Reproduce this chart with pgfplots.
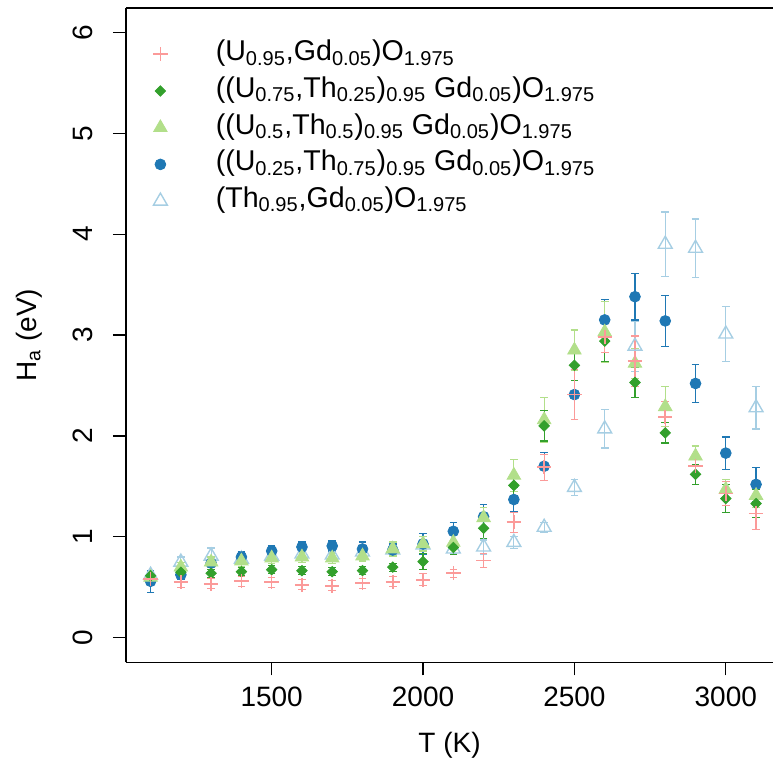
\documentclass[border=0pt]{standalone}
\usepackage{fontspec}
\setmainfont{Liberation Sans}
\usepackage{pgfplots}
\pgfplotsset{compat=1.18}
\definecolor{cPink}{HTML}{FB9A99}
\definecolor{cDkGreen}{HTML}{33A02C}
\definecolor{cLtGreen}{HTML}{B2DF8A}
\definecolor{cDkBlue}{HTML}{1F78B4}
\definecolor{cLtBlue}{HTML}{A6CEE3}
\newcommand{\sub}[1]{\textsubscript{#1}}
\begin{document}
\begin{tikzpicture}
\begin{axis}[
    scale only axis,
    width=323.5pt, height=327.2pt,
    xmin=1018.8, xmax=3155.9, ymin=-0.244, ymax=6.241,
    axis lines=left,
    axis line style={-, line width=0.75pt},
    xtick={1500,2000,2500,3000}, ytick={0,1,2,3,4,5,6},
    tick align=outside, major tick length=6.5pt,
    tick style={line width=0.6pt, black},
    /pgf/number format/assume math mode=true,
    /pgf/number format/1000 sep={},
    ticklabel style={font=\fontsize{14}{16}\selectfont},
    yticklabel style={rotate=90, anchor=south},
    xticklabel shift=2pt, yticklabel shift=6.5pt,
    xlabel={T (K)},
    ylabel={H\sub{a} (eV)},
    label style={font=\fontsize{14}{16}\selectfont},
    xlabel style={at={(axis description cs:0.5,0)}, anchor=base, yshift=-45pt},
    ylabel style={at={(axis description cs:-0.1391,0.5)}, anchor=base, rotate=0},
    legend style={at={(rel axis cs:0,1)}, anchor=north west, xshift=13pt, yshift=-15.9pt,
                  draw=none, fill=none, inner sep=0pt, outer sep=0pt,
                  row sep=3.85pt, column sep=23.5pt,
                  font=\fontsize{14.3}{16}\selectfont,
                  nodes={inner sep=0pt, text height=10.5pt, text depth=4pt}},
    legend cell align=left,
    reverse legend,
    legend image code/.code={\path (-4pt,0pt) (4pt,0pt); \draw[#1] plot coordinates {(0pt,0pt)};},
    every axis plot/.append style={only marks},
    error bars/error bar style={line width=0.6pt},
    error bars/error mark options={rotate=90, mark size=1.9pt, line width=0.6pt},
  ]
\coordinate (sw) at (rel axis cs:0,0);
\coordinate (ne) at (rel axis cs:1,1);
\draw[line width=0.75pt] (rel axis cs:0,1) -- (rel axis cs:1,1);
% (Th0.95,Gd0.05)O1.975
\addplot[color=cLtBlue, mark=triangle, mark size=4pt, mark options={line width=0.7pt},
         error bars/.cd, y dir=both, y explicit] coordinates {
  (1100,0.62) +- (0,0.05)
  (1200,0.75) +- (0,0.05)
  (1300,0.81) +- (0,0.08)
  (1400,0.78) +- (0,0.05)
  (1500,0.81) +- (0,0.05)
  (1600,0.83) +- (0,0.05)
  (1700,0.82) +- (0,0.05)
  (1800,0.85) +- (0,0.05)
  (1900,0.87) +- (0,0.05)
  (2000,0.92) +- (0,0.05)
  (2100,0.88) +- (0,0.05)
  (2200,0.90) +- (0,0.07)
  (2300,0.945) +- (0,0.06)
  (2400,1.095) +- (0,0.05)
  (2500,1.49) +- (0,0.08)
  (2600,2.07) +- (0,0.19)
  (2700,2.89) +- (0,0.25)
  (2800,3.90) +- (0,0.32)
  (2900,3.86) +- (0,0.29)
  (3000,3.01) +- (0,0.27)
  (3100,2.28) +- (0,0.21)};
\addlegendentry{(Th\sub{0.95},Gd\sub{0.05})O\sub{1.975}}
% ((U0.25,Th0.75)0.95 Gd0.05)O1.975
\addplot[color=cDkBlue, mark=*, mark size=2.7pt,
         error bars/.cd, y dir=both, y explicit] coordinates {
  (1100,0.56) +- (0,0.11)
  (1200,0.625) +- (0,0.05)
  (1300,0.74) +- (0,0.06)
  (1400,0.80) +- (0,0.05)
  (1500,0.86) +- (0,0.05)
  (1600,0.90) +- (0,0.05)
  (1700,0.91) +- (0,0.05)
  (1800,0.88) +- (0,0.07)
  (1900,0.87) +- (0,0.06)
  (2000,0.93) +- (0,0.10)
  (2100,1.055) +- (0,0.09)
  (2200,1.20) +- (0,0.12)
  (2300,1.37) +- (0,0.12)
  (2400,1.70) +- (0,0.14)
  (2500,2.41) +- (0,0.25)
  (2600,3.15) +- (0,0.20)
  (2700,3.38) +- (0,0.23)
  (2800,3.14) +- (0,0.25)
  (2900,2.52) +- (0,0.19)
  (3000,1.83) +- (0,0.16)
  (3100,1.52) +- (0,0.17)};
\addlegendentry{((U\sub{0.25},Th\sub{0.75})\sub{0.95} Gd\sub{0.05})O\sub{1.975}}
% ((U0.5,Th0.5)0.95 Gd0.05)O1.975
\addplot[color=cLtGreen, mark=triangle*, mark size=3.9pt,
         error bars/.cd, y dir=both, y explicit] coordinates {
  (1100,0.60) +- (0,0.05)
  (1200,0.70) +- (0,0.05)
  (1300,0.75) +- (0,0.05)
  (1400,0.76) +- (0,0.05)
  (1500,0.79) +- (0,0.05)
  (1600,0.80) +- (0,0.05)
  (1700,0.79) +- (0,0.05)
  (1800,0.81) +- (0,0.05)
  (1900,0.88) +- (0,0.07)
  (2000,0.93) +- (0,0.07)
  (2100,0.945) +- (0,0.07)
  (2200,1.19) +- (0,0.10)
  (2300,1.61) +- (0,0.16)
  (2400,2.16) +- (0,0.22)
  (2500,2.85) +- (0,0.20)
  (2600,3.03) +- (0,0.30)
  (2700,2.72) +- (0,0.15)
  (2800,2.29) +- (0,0.20)
  (2900,1.80) +- (0,0.10)
  (3000,1.47) +- (0,0.10)
  (3100,1.41) +- (0,0.12)};
\addlegendentry{((U\sub{0.5},Th\sub{0.5})\sub{0.95} Gd\sub{0.05})O\sub{1.975}}
% ((U0.75,Th0.25)0.95 Gd0.05)O1.975
\addplot[color=cDkGreen, mark=square*, mark size=1.85pt, mark options={rotate=45},
         error bars/.cd, y dir=both, y explicit] coordinates {
  (1100,0.615) +- (0,0.04)
  (1200,0.65) +- (0,0.04)
  (1300,0.64) +- (0,0.04)
  (1400,0.655) +- (0,0.04)
  (1500,0.675) +- (0,0.04)
  (1600,0.665) +- (0,0.04)
  (1700,0.655) +- (0,0.04)
  (1800,0.665) +- (0,0.04)
  (1900,0.70) +- (0,0.04)
  (2000,0.755) +- (0,0.08)
  (2100,0.895) +- (0,0.07)
  (2200,1.085) +- (0,0.10)
  (2300,1.51) +- (0,0.10)
  (2400,2.10) +- (0,0.15)
  (2500,2.70) +- (0,0.15)
  (2600,2.94) +- (0,0.20)
  (2700,2.53) +- (0,0.15)
  (2800,2.03) +- (0,0.10)
  (2900,1.62) +- (0,0.10)
  (3000,1.38) +- (0,0.14)
  (3100,1.33) +- (0,0.14)};
\addlegendentry{((U\sub{0.75},Th\sub{0.25})\sub{0.95} Gd\sub{0.05})O\sub{1.975}}
% (U0.95,Gd0.05)O1.975
\addplot[color=cPink, mark=+, mark size=3.6pt, mark options={line width=0.8pt},
         error bars/.cd, y dir=both, y explicit] coordinates {
  (1100,0.585) +- (0,0.05)
  (1200,0.55) +- (0,0.05)
  (1300,0.535) +- (0,0.05)
  (1400,0.56) +- (0,0.05)
  (1500,0.55) +- (0,0.05)
  (1600,0.525) +- (0,0.05)
  (1700,0.515) +- (0,0.05)
  (1800,0.54) +- (0,0.05)
  (1900,0.555) +- (0,0.05)
  (2000,0.575) +- (0,0.06)
  (2100,0.64) +- (0,0.04)
  (2200,0.765) +- (0,0.07)
  (2300,1.145) +- (0,0.10)
  (2400,1.69) +- (0,0.13)
  (2500,2.41) +- (0,0.25)
  (2600,2.98) +- (0,0.15)
  (2700,2.74) +- (0,0.25)
  (2800,2.19) +- (0,0.15)
  (2900,1.70) +- (0,0.10)
  (3000,1.43) +- (0,0.12)
  (3100,1.23) +- (0,0.16)};
\addlegendentry{(U\sub{0.95},Gd\sub{0.05})O\sub{1.975}}
\end{axis}
\pgfresetboundingbox
\path ([shift={(-63pt,-51.5pt)}]sw) rectangle ([shift={(0pt,4pt)}]ne);
\end{tikzpicture}
\end{document}
